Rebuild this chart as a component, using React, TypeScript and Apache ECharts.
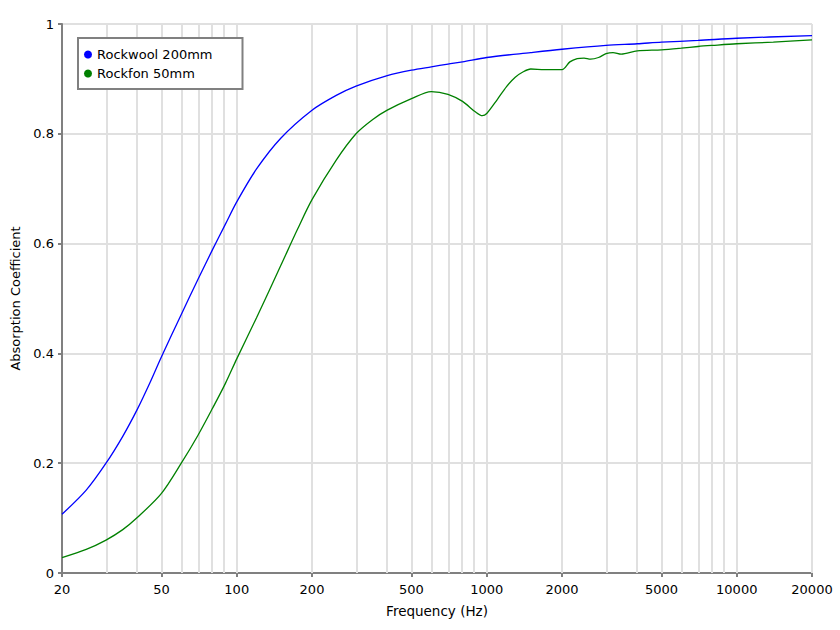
import React, { useEffect, useRef } from "react";
import * as echarts from "echarts";

const rockwoolFreq = [20, 25, 30, 35, 40, 45, 50, 60, 70, 80, 90, 100, 120, 150, 200, 250, 300, 400, 500, 600, 700, 800, 1000, 1500, 2000, 3000, 4000, 5000, 7000, 10000, 20000];
const rockwoolVals = [0.107, 0.151, 0.2, 0.249, 0.298, 0.347, 0.394, 0.471, 0.535, 0.589, 0.635, 0.676, 0.736, 0.792, 0.843, 0.87, 0.887, 0.906, 0.916, 0.922, 0.927, 0.931, 0.939, 0.948, 0.954, 0.961, 0.964, 0.967, 0.97, 0.974, 0.979];

const rockfonFreq = [20, 25, 30, 35, 40, 50, 60, 70, 80, 90, 100, 120, 150, 175, 200, 250, 300, 350, 400, 500, 600, 700, 800, 900, 960, 1000, 1100, 1200, 1300, 1400, 1500, 1700, 2000, 2150, 2300, 2450, 2600, 2800, 3000, 3200, 3450, 4000, 5000, 6000, 7000, 8000, 10000, 14000, 20000];
const rockfonVals = [0.028, 0.043, 0.06, 0.079, 0.101, 0.145, 0.2, 0.251, 0.3, 0.345, 0.39, 0.465, 0.56, 0.626, 0.68, 0.752, 0.8, 0.826, 0.843, 0.864, 0.877, 0.872, 0.859, 0.84, 0.833, 0.837, 0.862, 0.886, 0.903, 0.913, 0.918, 0.917, 0.917, 0.931, 0.937, 0.938, 0.936, 0.939, 0.946, 0.948, 0.945, 0.951, 0.953, 0.956, 0.959, 0.961, 0.964, 0.967, 0.971];

const xLabelFreqs = [20, 50, 100, 200, 500, 1000, 2000, 5000, 10000, 20000];
const gridFreqs = [30, 40, 50, 60, 70, 80, 90, 100, 200, 300, 400, 500, 600, 700, 800, 900, 1000, 2000, 3000, 4000, 5000, 6000, 7000, 8000, 9000, 10000, 20000];

const FONT = "DejaVu Sans, Verdana, sans-serif";

export default function App() {
  const ref = useRef<HTMLDivElement>(null);
  useEffect(() => {
    if (!ref.current) return;
    const chart = echarts.init(ref.current, null, { renderer: "svg" });
    const lg = (f: number) => Math.log10(f);
    chart.setOption({
      animation: false,
      textStyle: { fontFamily: FONT },
      grid: { left: 62, right: 28, top: 24, bottom: 57, containLabel: false },
      legend: {
        data: ["Rockwool 200mm", "Rockfon 50mm"],
        orient: "vertical",
        left: 78,
        top: 38,
        icon: "circle",
        itemWidth: 8,
        itemHeight: 8,
        itemGap: 6,
        padding: [10, 30, 9, 6],
        borderColor: "#808080",
        borderWidth: 2,
        backgroundColor: "#fff",
        z: 10,
        textStyle: { fontSize: 13, color: "#000", fontFamily: FONT },
      },
      xAxis: {
        type: "value",
        min: lg(20),
        max: lg(20000),
        name: "Frequency (Hz)",
        nameLocation: "middle",
        nameGap: 31,
        nameTextStyle: { fontSize: 13.5, color: "#000", fontFamily: FONT },
        axisLine: { lineStyle: { color: "#808080", width: 2 } },
        axisTick: { show: true, length: 4, customValues: xLabelFreqs.map(lg), lineStyle: { color: "#808080", width: 2 } },
        axisLabel: {
          customValues: xLabelFreqs.map(lg),
          formatter: (v: number) => String(Math.round(Math.pow(10, v))),
          fontSize: 13,
          color: "#000",
          margin: 10,
          fontFamily: FONT,
        },
        splitLine: { show: false },
      },
      yAxis: {
        type: "value",
        min: 0,
        max: 1,
        interval: 0.2,
        name: "Absorption Coefficient",
        nameLocation: "middle",
        nameGap: 38,
        nameTextStyle: { fontSize: 13, color: "#000", fontFamily: FONT },
        axisLine: { show: true, lineStyle: { color: "#808080", width: 2 } },
        axisTick: { show: true, length: 4, lineStyle: { color: "#808080", width: 2 } },
        axisLabel: { fontSize: 13, color: "#000", margin: 8, fontFamily: FONT },
        splitLine: { show: true, lineStyle: { color: "#e0e0e0", width: 2 } },
      },
      series: [
        {
          name: "grid",
          type: "line",
          data: [],
          z: 1,
          silent: true,
          markLine: {
            silent: true,
            z: 1,
            symbol: ["none", "none"],
            label: { show: false },
            lineStyle: { color: "#e0e0e0", width: 2, type: "solid" },
            data: gridFreqs.map((f) => ({ xAxis: lg(f) })),
          },
        },
        {
          name: "Rockwool 200mm",
          type: "line",
          z: 3,
          color: "#0000ff",
          showSymbol: false,
          smooth: 0.3,
          lineStyle: { width: 1.3, color: "#0000ff" },
          data: rockwoolFreq.map((f, i) => [lg(f), rockwoolVals[i]]),
        },
        {
          name: "Rockfon 50mm",
          type: "line",
          z: 3,
          color: "#008000",
          showSymbol: false,
          smooth: 0.3,
          lineStyle: { width: 1.3, color: "#008000" },
          data: rockfonFreq.map((f, i) => [lg(f), rockfonVals[i]]),
        },
      ],
    });
    return () => chart.dispose();
  }, []);
  return <div ref={ref} style={{ position: "fixed", left: 0, top: 0, width: 840, height: 630, background: "#fff" }} />;
}
